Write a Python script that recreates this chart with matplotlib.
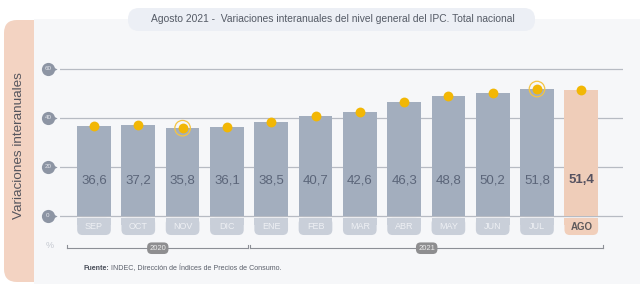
import matplotlib
matplotlib.use('Agg')  # no display
import matplotlib.pyplot as plt
from matplotlib.patches import FancyBboxPatch, Rectangle

plt.rcParams['font.family'] = ['Liberation Sans', 'DejaVu Sans']

# data
months = ['SEP', 'OCT', 'NOV', 'DIC', 'ENE', 'FEB', 'MAR', 'ABR', 'MAY', 'JUN', 'JUL', 'AGO']
values = [36.6, 37.2, 35.8, 36.1, 38.5, 40.7, 42.6, 46.3, 48.8, 50.2, 51.8, 51.4]
value_labels = ['36,6', '37,2', '35,8', '36,1', '38,5', '40,7', '42,6', '46,3', '48,8', '50,2', '51,8', '51,4']
ringed = ['NOV', 'JUL']
yticks = [0, 20, 40, 60]
years = ['2020', '2021']
year_spans = [(-0.6, 3.48), (3.52, 11.5)]

title = 'Agosto 2021 -  Variaciones interanuales del nivel general del IPC. Total nacional'
ylabel = 'Variaciones interanuales'
source_bold = 'Fuente:'
source_rest = ' INDEC, Dirección de Índices de Precios de Consumo.'

W, H = 642, 284
fig = plt.figure(figsize=(W / 100, H / 100), dpi=100)
fig.patch.set_facecolor('white')

# background axes in pixel units
bg = fig.add_axes([0, 0, 1, 1])
bg.set_xlim(0, W)
bg.set_ylim(H, 0)
bg.axis('off')

bg.add_patch(FancyBboxPatch((4, 20), 50, 262, boxstyle='round,pad=0,rounding_size=13',
                            fc='#f3d3c2', ec='none', zorder=0))
bg.add_patch(Rectangle((34, 19), 606, 266, fc='#f6f7f9', ec='none', zorder=1))
bg.add_patch(FancyBboxPatch((128, 8), 407, 23, boxstyle='round,pad=0,rounding_size=11',
                            fc='#eceff5', ec='none', zorder=2))
bg.text(333, 19.5, title, ha='center', va='center', fontsize=7.4, color='#555b66', zorder=3)
bg.text(19, 146, ylabel, rotation=90, ha='center', va='center', fontsize=9.7,
        color='#55555d', zorder=3)
t1 = bg.text(83, 268, source_bold, ha='left', va='center', fontsize=5.1, fontweight='bold',
             color='#4a4f5a', zorder=3)
bg.annotate(source_rest, xy=(1, 0.5), xycoords=t1, ha='left', va='center', fontsize=5.1,
            color='#5a5f6a', zorder=3)

# chart axes, placed in pixels
x0_px, x_step = 94, 44.3
y0_px, y_step = 215.7, 2.445
L, R, T, B = 60, 623, 60, 237
ax = fig.add_axes([L / W, 1 - B / H, (R - L) / W, (B - T) / H])
ax.set_xlim((L - x0_px) / x_step, (R - x0_px) / x_step)
ax.set_ylim(-(B - y0_px) / y_step, (y0_px - T) / y_step)
ax.axis('off')

for t in yticks:
    ax.axhline(t, color='#b7bbc3', lw=0.9, zorder=0)
    ax.scatter([-1.04], [t], s=90, color='#8d95a4', zorder=4, clip_on=False, linewidths=0)
    ax.scatter([-0.90], [t], s=20, marker='>', color='#8d95a4', zorder=4, clip_on=False,
               linewidths=0)
    ax.text(-1.04, t, str(t), ha='center', va='center', fontsize=4.5, color='#e6e8ee',
            zorder=5, clip_on=False)

xs = list(range(len(months)))
bar_w = 0.76
colors = ['#a3aebe'] * (len(months) - 1) + ['#efcdb9']
ax.bar(xs, values, width=bar_w, color=colors, zorder=2)

# month tabs below the baseline
for x, m, c in zip(xs, months, colors):
    tab_c = '#c9cfd9' if m != 'AGO' else '#f1cfbb'
    ax.add_patch(FancyBboxPatch((x - bar_w / 2, -7.9), bar_w, 7.0,
                                boxstyle='round,pad=0,rounding_size=0.12',
                                mutation_aspect=x_step / y_step, fc=tab_c, ec='none', zorder=2))
    ax.add_patch(Rectangle((x - bar_w / 2, -4.0), bar_w, 3.05, fc=tab_c, ec='none', zorder=2))
    if m == 'AGO':
        ax.text(x, -4.5, m, ha='center', va='center', fontsize=7, fontweight='bold',
                color='#5e5a5c', zorder=3)
    else:
        ax.text(x, -4.5, m, ha='center', va='center', fontsize=6.5, color='#eef0f4', zorder=3)

for x, v, lab, m in zip(xs, values, value_labels, months):
    if m == 'AGO':
        ax.text(x, 14.5, lab, ha='center', va='center', fontsize=9.5, fontweight='bold',
                color='#565260', zorder=3)
    else:
        ax.text(x, 14.5, lab, ha='center', va='center', fontsize=9.5, color='#5b6579', zorder=3)

ax.scatter(xs, values, s=50, color='#f2b705', zorder=4, linewidths=0, clip_on=False)
ring_x = [months.index(m) for m in ringed]
ax.scatter(ring_x, [values[i] for i in ring_x], s=125, facecolors='none',
           edgecolors='#f5c542', linewidths=0.9, zorder=4, clip_on=False)

# year brackets
yb = -13.3
for (a, b), yr in zip(year_spans, years):
    ax.plot([a, b], [yb, yb], color='#8c8f96', lw=0.8, clip_on=False, zorder=3)
    ax.plot([a, a], [yb, yb + 1.2], color='#8c8f96', lw=0.8, clip_on=False, zorder=3)
    ax.plot([b, b], [yb, yb + 1.2], color='#8c8f96', lw=0.8, clip_on=False, zorder=3)
    ax.text((a + b) / 2, yb, yr, ha='center', va='center', fontsize=5.5, color='#eeeeee',
            clip_on=False, zorder=4,
            bbox=dict(boxstyle='round,pad=0.3,rounding_size=0.6', fc='#8e8e90', ec='none'))
ax.text(-0.99, -12, '%', ha='center', va='center', fontsize=6.5, color='#c4c8d0', clip_on=False)

fig.savefig('out.png', dpi=100, facecolor='white')
